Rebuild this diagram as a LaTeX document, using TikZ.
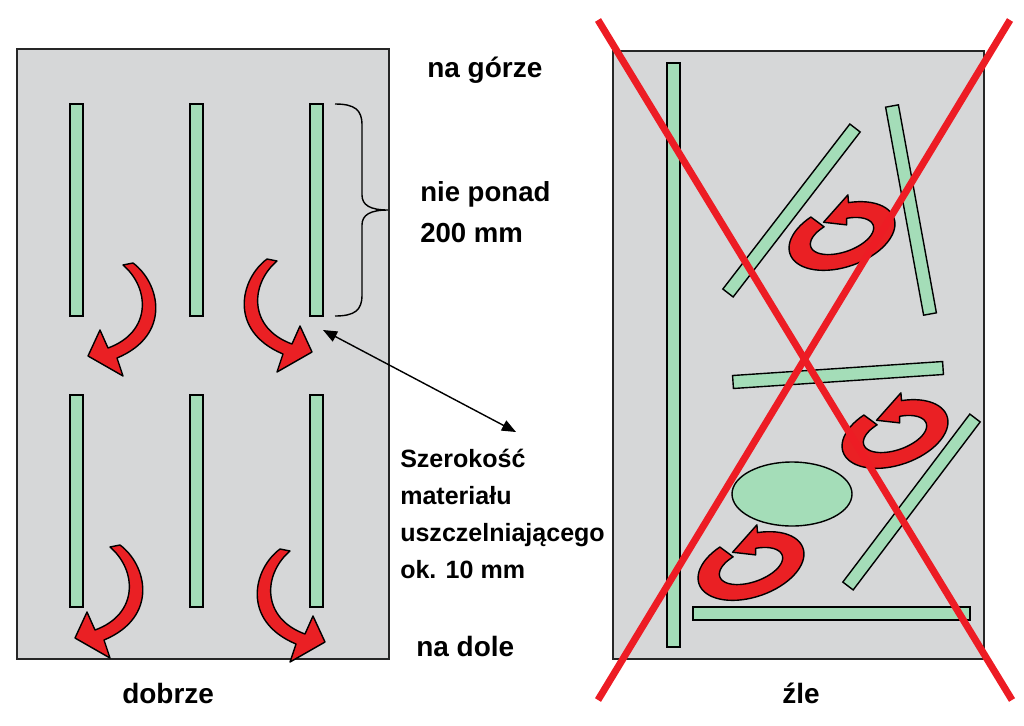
\documentclass[tikz,border=0pt]{standalone}
\usepackage{fontspec}
\setmainfont{Liberation Sans}
\usetikzlibrary{arrows.meta,calc}

\definecolor{panelgray}{RGB}{214,215,216}
\definecolor{stripgreen}{RGB}{164,221,184}
\definecolor{arrowred}{RGB}{234,32,36}
\definecolor{crossred}{RGB}{237,28,36}

% strip with a given centre line (for the tilted ones)
\newcommand{\tiltstrip}[2]{%
  \draw[strip] ($(#1)!0.1625cm!90:(#2)$) -- ($(#2)!0.1625cm!-90:(#1)$)
    -- ($(#2)!0.1625cm!90:(#1)$) -- ($(#1)!0.1625cm!-90:(#2)$) -- cycle;}

% bent red arrow of the air flow
\newcommand{\bendarrow}[2][]{%
  \draw[redarrow, shift={#2}, #1] (3,-45) -- (13,-47)
    .. controls (40,-27) and (52,25) .. (-3,48) -- (3,66) -- (-32,46)
    -- (-20,20) -- (-12,38) .. controls (32,22) and (30,-22) .. (3,-45) -- cycle;}

% red arrow turning round in a ring
\newcommand{\spinarrow}[1]{%
  \begin{scope}[shift={#1}, yscale=-1, rotate=-19]
    \draw[redarrow] plot[domain=115:432, samples=60] ({55*cos(\x)},{31*sin(\x)})
      -- (19,37) -- (-13,19) -- (8,9)
      -- plot[domain=432:115, samples=60] ({33*cos(\x)},{16*sin(\x)}) -- cycle;
  \end{scope}}

\begin{document}
\begin{tikzpicture}[x=0.025cm, y=-0.025cm,
    panel/.style={draw=black!85, line width=1.1pt, fill=panelgray},
    strip/.style={draw=black, line width=1pt, fill=stripgreen},
    redarrow/.style={draw=black, line width=1pt, fill=arrowred, line join=round},
    crossline/.style={draw=crossred, line width=5pt},
    pointer/.style={draw=black, line width=1pt, {Triangle[length=10pt,width=8pt]}-{Triangle[length=10pt,width=8pt]}},
    caption/.style={inner sep=0pt, anchor=base west, font=\fontsize{19.9pt}{24pt}\selectfont\bfseries},
    note/.style={inner sep=0pt, anchor=base west, align=left, font=\fontsize{17.8pt}{26.3pt}\selectfont\bfseries}]
    \useasboundingbox (0,0) rectangle (1024,725);

    % panels
    \draw[panel] (17,49) rectangle (389,659);
    \draw[panel] (613,51) rectangle (984,659);

    % left: strips in rows
    \foreach \sx in {70,190,310} {
        \draw[strip] (\sx,104) rectangle ++(13,212);
        \draw[strip] (\sx,395) rectangle ++(13,212);
    }
    \bendarrow{(120,310)}
    \bendarrow[xscale=-1]{(280,306)}
    \bendarrow{(107,592)}
    \bendarrow[xscale=-1]{(293,596)}

    % brace over one strip
    \draw[line width=1pt] (335,104) .. controls (355,104) and (362,110) .. (362,125)
        -- (362,195) .. controls (362,205) and (370,210) .. (388,210)
        .. controls (370,210) and (362,215) .. (362,225) -- (362,295)
        .. controls (362,310) and (355,316) .. (335,316);

    % right: strips in disorder
    \draw[strip] (667,63) rectangle (680,647);
    \draw[strip] (693,607) rectangle (970,620);
    \tiltstrip{728,293}{855,128}
    \tiltstrip{892,106}{930,314}
    \tiltstrip{733,382}{943,368}
    \tiltstrip{848,586}{975,418}
    \draw[strip] (792,494) ellipse (60 and 32);
    \spinarrow{(842,236)}
    \spinarrow{(895,434)}
    \spinarrow{(751,566)}

    % crossed out
    \draw[crossline] (598,20) -- (1012,700);
    \draw[crossline] (1010,20) -- (598,700);

    % texts (multi-line ones sit on their last line)
    \node[caption] (top) at (427,77) {na górze};
    \node[caption, font=\fontsize{19.6pt}{28.5pt}\selectfont\bfseries, align=left] (limit) at (420,242) {nie ponad\\200 mm};
    \node[note] (width) at (400,578) {Szerokość\\materiału\\uszczelniającego\\ok. 10 mm};
    \node[caption] (bottom) at (416,656) {na dole};
    \node[caption] (good) at (122,703) {dobrze};
    \node[caption] (bad) at (782,703) {źle};

    % gap width
    \coordinate (gapend) at (323,330);
    \coordinate (widthtip) at (516,432);
    \draw[pointer] (gapend) -- (widthtip);
\end{tikzpicture}
\end{document}
